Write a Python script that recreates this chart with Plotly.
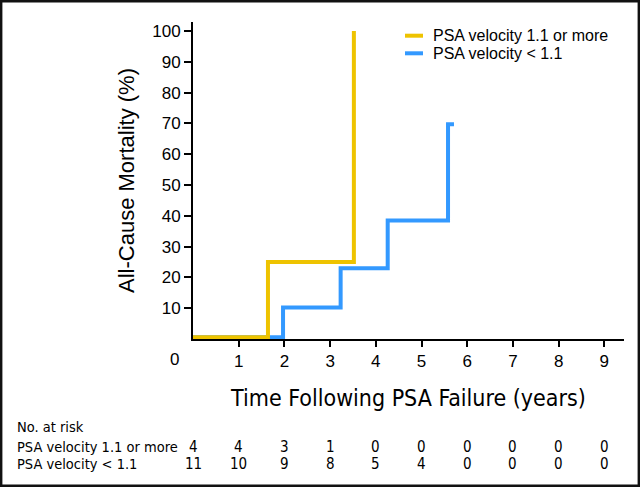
import plotly.graph_objects as go

# ---- data ----
series_names = ["PSA velocity 1.1 or more", "PSA velocity < 1.1"]
high_x = [0, 1.64, 3.52]
high_y = [0.6, 25, 100]
low_x = [0, 1.97, 3.23, 4.26, 5.58, 5.71]
low_y = [0.6, 10.2, 23, 38.5, 69.7, 69.7]
x_ticks = [1, 2, 3, 4, 5, 6, 7, 8, 9]
y_ticks = [10, 20, 30, 40, 50, 60, 70, 80, 90, 100]
risk_times = [0, 1, 2, 3, 4, 5, 6, 7, 8, 9]
risk_high = [4, 4, 3, 1, 0, 0, 0, 0, 0, 0]
risk_low = [11, 10, 9, 8, 5, 4, 0, 0, 0, 0]

YELLOW = "#EEC300"
BLUE = "#3399FF"

W, H = 640, 487
L, R, T, B = 193, 16, 22, 148
PW, PH = W - L - R, H - T - B


def px(xpix):
    return (xpix - L) / PW


def py(ypix):
    return (H - B - ypix) / PH


NARROW = "Liberation Sans Narrow, DejaVu Sans Condensed, Arial Narrow, sans-serif"
SANS = "Liberation Sans, Arial, Helvetica, sans-serif"

fig = go.Figure()
fig.add_trace(go.Scatter(x=low_x, y=low_y, mode="lines", line=dict(color=BLUE, width=4, shape="hv"),
                         name=series_names[1], showlegend=False))
fig.add_trace(go.Scatter(x=high_x, y=high_y, mode="lines", line=dict(color=YELLOW, width=4, shape="hv"),
                         name=series_names[0], showlegend=False))

annotations = []
shapes = []

# legend (manual)
for i, (name, col) in enumerate(zip(series_names, [YELLOW, BLUE])):
    yy = 35.7 + i * 17.6
    shapes.append(dict(type="line", xref="paper", yref="paper", x0=px(405), x1=px(423), y0=py(yy), y1=py(yy),
                       line=dict(color=col, width=4)))
    annotations.append(dict(text=name, xref="paper", yref="paper", x=px(431), y=py(yy), xanchor="left",
                            yanchor="middle", showarrow=False, font=dict(family=SANS, size=16, color="black")))

# "0" at origin
annotations.append(dict(text="0", xref="paper", yref="paper", x=px(174), y=py(359), xanchor="center",
                        yanchor="middle", showarrow=False, font=dict(family=SANS, size=17, color="black")))

# risk table
annotations.append(dict(text="No. at risk", xref="paper", yref="paper", x=px(15), y=py(427), xanchor="left",
                        yanchor="middle", showarrow=False, font=dict(family=NARROW, size=14.5, color="black")))
for name, vals, yy in [(series_names[0], risk_high, 446.5), (series_names[1], risk_low, 464)]:
    annotations.append(dict(text=name, xref="paper", yref="paper", x=px(15), y=py(yy), xanchor="left",
                            yanchor="middle", showarrow=False, font=dict(family=NARROW, size=14.5, color="black")))
    for t, v in zip(risk_times, vals):
        annotations.append(dict(text=str(v), xref="x", yref="paper", x=t, y=py(yy), xanchor="center",
                                yanchor="middle", showarrow=False, font=dict(family=NARROW, size=15, color="black")))

# outer frame
shapes.append(dict(type="rect", xref="paper", yref="paper", x0=px(1.2), x1=px(638.8), y0=py(1.2), y1=py(485.8),
                   line=dict(color="#111111", width=2.4), layer="above"))

fig.update_layout(
    width=W, height=H,
    margin=dict(l=L, r=R, t=T, b=B, autoexpand=False),
    paper_bgcolor="white", plot_bgcolor="white",
    showlegend=False,
    annotations=annotations, shapes=shapes,
    xaxis=dict(range=[0, 9.43], tickvals=x_ticks, ticktext=[str(v) for v in x_ticks],
               showline=True, linecolor="black", linewidth=2, ticks="outside", ticklen=6, tickwidth=2,
               tickcolor="black", showgrid=False, zeroline=False,
               tickfont=dict(family=SANS, size=17, color="black"),
               title=dict(text="Time Following PSA Failure (years)", standoff=19,
                          font=dict(family=NARROW, size=23, color="black"))),
    yaxis=dict(range=[0, 102.9], tickvals=y_ticks, ticktext=[str(v) for v in y_ticks],
               showline=True, linecolor="black", linewidth=2, ticks="outside", ticklen=7, tickwidth=2,
               tickcolor="black", showgrid=False, zeroline=False,
               tickfont=dict(family=SANS, size=17, color="black"),
               title=dict(text="All-Cause Mortality (%)", standoff=12,
                          font=dict(family=SANS, size=22, color="black"))),
)

fig.write_html("out.html", config={"displayModeBar": False},
               post_script="document.body.style.margin='0';document.body.style.padding='0';")
